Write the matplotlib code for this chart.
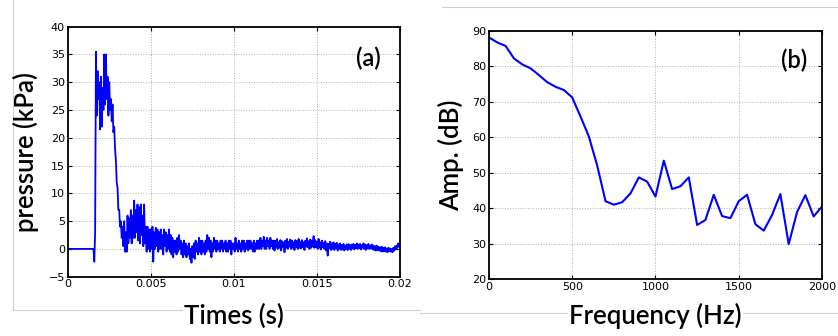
import numpy as np
import matplotlib.pyplot as plt
from matplotlib.lines import Line2D

dt = 0.00005
pressure = [
    0, 0, 0, 0, 0, 0, 0, 0, 0, 0, 0, 0, 0, 0, 0, 0,
    0, 0, 0, 0, 0, 0, 0, 0, 0, 0, 0, 0, 0, 0, 0, 0,
    -2.3, 3, 35.5, 24, 32, 27, 30, 21.5, 31, 22, 29, 25, 35, 26, 35, 27,
    31, 24, 30, 25, 27, 23, 26, 21, 22, 18, 16, 12, 11, 7, 7, 4,
    5, 2, 4, 0.5, 5, -0.5, 3, -0.5, 6, 1, 5.5, 2, 7, 1, 6, 2,
    8.7, 2, 7, 3, 8, 1.5, 7.5, 1, 8, 2.5, 6, 0.5, 8, 1, 4, -0.5,
    4, 0, 3.5, -0.5, 3.5, 0, 4, -2.3, 3, 0, 3.8, 0.5, 3.5, -0.5, 3, 0,
    3.5, 0, 2.5, -1, 3.5, 0.5, 3, -0.5, 2.5, 0, 3.5, -0.5, 2.5, -1, 2, -1.5,
    1.5, -0.5, 1.5, -1, 2, -0.5, 2.5, 0, 1.5, -1, 1, -1.5, 1.5, -1, 1, -1.5,
    0.5, -1, 1, -1.8, 0, -2.5, 0.5, -1.5, 1, -1.8, 1.5, -0.5, 1, -1, 2, -0.5,
    1.5, -1, 1.5, -0.5, 1, -1, 1.5, -0.5, 2.5, 0, 2, -0.5, 1.5, -1.5, 1, -0.5,
    2, 0, 1.5, -0.5, 1.5, 0, 1, -0.5, 1.5, 0, 1.5, -0.5, 1, 0, 1.5, -0.5,
    1, -0.5, 1.5, 0, 1.5, -1, 1, 0, 1, -0.5, 2, 0, 1, -0.5, 1.5, 0,
    1, -0.5, 1.5, 0, 1.5, -0.5, 1, 0, 1.5, -0.3, 1.5, 0, 1.5, 0, 1, -0.5,
    1.5, -0.5, 1, 0, 1.5, 0, 1.5, 0, 2, 0, 1.5, 0.5, 2.2, 0, 1.5, 0,
    2, 0.5, 1.5, 0, 2, 0.5, 1.5, 0, 1.5, -0.3, 1.5, 0.2, 1.8, 0, 1.2, 0.2,
    1.6, -0.3, 1.4, 0.3, 1.2, -0.6, 1.5, 0.2, 1.8, 0, 1.3, 0.4, 1.7, 0, 1.5, 0.2,
    1.2, -0.2, 1.6, 0.3, 1.4, 0, 1.8, 0.2, 1.3, 0.1, 1.6, 0.3, 1.2, -0.2, 1.5, 0.4,
    1.9, 0.3, 1.4, 0, 1.7, 0.2, 1.5, 0.4, 2.3, 0.2, 1.6, 0.3, 1.3, 0, 1.8, 0.2,
    1.2, -0.1, 1.5, 0.3, 1.1, 0, 1.4, -0.3, 1.0, -1.2, 0.9, 0.1, 1.3, -0.2, 1.0, 0,
    1.2, -0.2, 0.9, 0.1, 1.1, -0.3, 0.8, 0, 1.0, -0.2, 0.7, -0.1, 0.9, -0.3, 0.6, 0,
    0.8, -0.2, 0.9, 0, 0.7, -0.2, 0.8, 0.1, 0.9, -0.1, 0.7, 0.1, 1.0, 0, 0.8, 0.1,
    0.9, -0.1, 0.7, 0.2, 1.0, 0, 0.8, -0.2, 0.7, 0.1, 0.9, 0, 0.6, 0.1, 0.8, -0.1,
    0.6, -0.2, 0.5, -0.3, 0.6, -0.2, 0.4, -0.3, 0.3, -0.4, 0.4, -0.5, 0.2, -0.4, 0.3, -0.5,
    0.1, -0.6, 0.2, -0.4, 0.1, -0.5, 0, -0.6, 0.2, -0.3, 0.5, -0.1, 0.6, 0.2, 1.0, 0.5,
    1.0,
]
time_s = np.arange(len(pressure)) * dt

# spectrum, every 50 Hz
freq_hz = np.arange(0, 2001, 50)
amp_db = [88.1, 86.7, 85.7, 82.2, 80.5, 79.4, 77.5, 75.5, 74.2, 73.3,
          71.2, 65.8, 60.2, 52.0, 42.0, 41.0, 41.7, 44.2, 48.7, 47.5,
          43.3, 53.4, 45.4, 46.2, 48.7, 35.3, 36.7, 43.8, 37.8, 37.2,
          42.0, 43.8, 35.5, 33.7, 38.1, 44.0, 29.9, 38.9, 43.7, 37.7, 40.5]

label_font = 'Lato'
lab = dict(fontsize=18.5, family=label_font, weight='semibold')
white_box = dict(facecolor='white', edgecolor='none', pad=1)

fig = plt.figure(figsize=(8.38, 3.36), dpi=100)

# faint page frame lines, kept behind the axes and labels
frame = dict(color='#cfcfcf', lw=0.8, zorder=-1)
fig.add_artist(Line2D([13 / 838, 13 / 838], [1, 1 - 310 / 336], **frame))
fig.add_artist(Line2D([13 / 838, 420 / 838], [1 - 310 / 336, 1 - 310 / 336], **frame))
fig.add_artist(Line2D([442 / 838, 1], [1 - 7 / 336, 1 - 7 / 336], **frame))
fig.add_artist(Line2D([420 / 838, 1], [1 - 313 / 336, 1 - 313 / 336], **frame))

ax1 = fig.add_axes([0.0808, 0.1765, 0.3965, 0.744])
ax2 = fig.add_axes([0.5835, 0.1688, 0.3974, 0.7398])

ax1.plot(time_s, pressure, color='#0000ff', lw=1.3)
ax1.set_xlim(0, 0.02)
ax1.set_ylim(-5, 40)
ax1.set_xticks([0, 0.005, 0.01, 0.015, 0.02])
ax1.set_xticklabels(['0', '0.005', '0.01', '0.015', '0.02'])
ax1.set_yticks(np.arange(-5, 41, 5))
ax1.set_xlabel('Times (s)', labelpad=10, bbox=white_box, **lab)
ax1.set_ylabel('pressure (kPa)', labelpad=7, **lab)
ax1.text(0.905, 0.875, '(a)', transform=ax1.transAxes, fontsize=17,
         family=label_font, weight='semibold', ha='center', va='center')

ax2.plot(freq_hz, amp_db, color='#0000ff', lw=1.5)
ax2.set_xlim(0, 2000)
ax2.set_ylim(20, 90)
ax2.set_xticks([0, 500, 1000, 1500, 2000])
ax2.set_yticks(np.arange(20, 91, 10))
ax2.set_xlabel('Frequency (Hz)', labelpad=8, bbox=white_box, **lab)
ax2.set_ylabel('Amp. (dB)', labelpad=6, **lab)
ax2.text(0.915, 0.88, '(b)', transform=ax2.transAxes, fontsize=17,
         family=label_font, weight='semibold', ha='center', va='center')

for ax in (ax1, ax2):
    ax.grid(True, color='#b0b0b0', ls=':', lw=0.7)
    ax.tick_params(direction='in', length=3, labelsize=8, pad=2,
                   top=True, right=True)
    for s in ax.spines.values():
        s.set_linewidth(1.3)

fig.savefig('out.png', dpi=100)
